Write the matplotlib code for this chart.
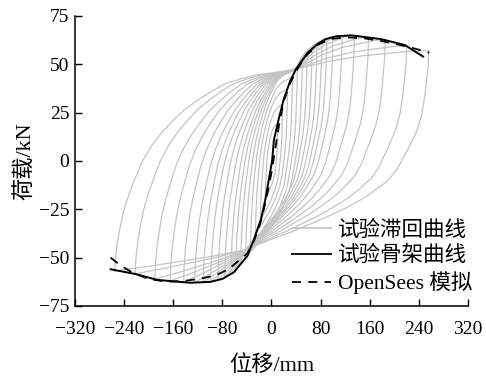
import numpy as np
import matplotlib.pyplot as plt
from matplotlib.lines import Line2D

plt.rcParams['font.family'] = ['Liberation Serif', 'Noto Sans CJK SC']

# skeleton curve (test)
skel_x = [-262, -221, -186, -132, -99, -80, -61, -39, -28, -17, -10, -4, 1, 4, 12, 20, 30, 40,
          59, 75, 88, 105, 130, 155, 179, 217, 247]
skel_y = [-56, -58.5, -61.5, -63, -62.5, -61, -57.5, -49, -40, -30, -20, -9, 0, 11, 22, 32, 41,
          47.6, 56, 60.5, 63, 64.5, 65, 64, 63, 60, 54]

# OpenSees simulation
os_x = [-262, -246, -225, -200, -170, -140, -110, -90, -70, -55, -40, -28, -17, -8, 0, 5, 12,
        20, 30, 42, 55, 75, 95, 120, 150, 180, 210, 235, 257]
os_y = [-50, -54, -58, -61, -62.5, -62, -60.5, -59, -56, -52, -48, -41, -31, -19, -6, 4, 18,
        31, 40, 47.5, 54, 60, 63, 64, 63.5, 62, 60, 58, 56]

# outermost hysteresis loop: reloading branch (neg peak -> pos peak)
up_x = [-255, -254, -250, -245, -240, -232, -222, -210, -195, -178, -160, -140, -118, -95, -75,
        -50, -25, 0, 20, 40, 60, 100, 150, 200, 235, 256]
up_y = [-57, -50, -40, -32, -25, -17, -9, 0, 8, 15, 21, 27, 32, 36.5, 40, 42.5, 44.5, 45.5,
        46.5, 47.5, 49, 52, 54.5, 56, 57, 57]
up_knee = 19
# outermost hysteresis loop: unloading branch (pos peak -> neg peak)
lo_x = [256, 255, 252, 249, 244, 236, 222, 205, 190, 165, 146, 120, 90, 60, 30, 0, -20, -42,
        -60, -100, -150, -200, -235, -255]
lo_y = [57, 48, 40, 32, 23, 15, 6, -4, -10, -16, -20, -24.5, -29, -33, -37, -40.5, -43, -46,
        -47, -49.5, -52, -54.5, -56, -57]
lo_knee = 17

# cycle amplitudes (mm)
pos_amp = [10, 18, 26, 34, 42, 50, 58, 66, 74, 82, 90, 100, 115, 135, 158, 185, 220]
neg_amp = [10, 18, 26, 34, 42, 50, 58, 66, 76, 87, 99, 111, 125, 143, 165, 190, 222]

xticks = [-320, -240, -160, -80, 0, 80, 160, 240, 320]
yticks = [-75, -50, -25, 0, 25, 50, 75]


def map_branch(bx, by, k, s, e):
    bx = np.array(bx, float)
    by = np.array(by, float)
    cx, cy = bx[k], by[k]
    ex0, ey0 = bx[-1], by[-1]
    if (e[0] - cx) * (ex0 - cx) > 0 and abs(e[0] - cx) > 8:
        x1 = cx + (bx[:k + 1] - cx) * (s[0] - cx) / (bx[0] - cx)
        y1 = cy + (by[:k + 1] - cy) * (s[1] - cy) / (by[0] - cy)
        x2 = cx + (bx[k:] - cx) * (e[0] - cx) / (ex0 - cx)
        y2 = cy + (by[k:] - cy) * (e[1] - cy) / (ey0 - cy)
        return np.r_[x1, x2[1:]], np.r_[y1, y2[1:]]
    x1 = e[0] + (bx[:k + 1] - cx) * (s[0] - e[0]) / (bx[0] - cx)
    y1 = e[1] + (by[:k + 1] - cy) * (s[1] - e[1]) / (by[0] - cy)
    return x1, y1


fig = plt.figure(figsize=(4.86, 3.78), dpi=100)
ax = fig.add_axes([0.1543, 0.1905, 0.8086, 0.7672])

gray = '#c4c4c4'
for ap, an in zip(pos_amp, neg_amp):
    pp = np.interp(ap, skel_x, skel_y)
    pn = np.interp(-an, skel_x, skel_y)
    x, y = map_branch(up_x, up_y, up_knee, (-an, pn), (ap, pp))
    ax.plot(x, y, color=gray, lw=0.9)
    x, y = map_branch(lo_x, lo_y, lo_knee, (ap, pp), (-an, pn))
    ax.plot(x, y, color=gray, lw=0.9)
ax.plot(up_x, up_y, color=gray, lw=0.9)
ax.plot(lo_x, lo_y, color=gray, lw=0.9)

ax.plot(skel_x, skel_y, color='black', lw=1.4)
ax.plot(os_x, os_y, color='black', lw=1.3, dashes=(5, 4))

ax.set_xlim(-320, 320)
ax.set_ylim(-75, 75)
ax.set_xticks(xticks)
ax.set_yticks(yticks)
ax.spines['top'].set_visible(False)
ax.spines['right'].set_visible(False)
ax.spines['left'].set_linewidth(1.1)
ax.spines['bottom'].set_linewidth(1.1)
ax.tick_params(direction='in', length=5, width=1, labelsize=14)
ax.tick_params(axis='x', pad=11)
ax.tick_params(axis='y', pad=4)
ax.set_xlabel('位移/mm', fontsize=16, labelpad=12)
ax.set_ylabel('荷载/kN', fontsize=16, labelpad=3)

handles = [Line2D([], [], color=gray, lw=1.2),
           Line2D([], [], color='black', lw=1.3),
           Line2D([], [], color='black', lw=1.3, dashes=(5, 4))]
labels = ['试验滞回曲线', '试验骨架曲线', 'OpenSees 模拟']
ax.legend(handles, labels, loc='lower right', bbox_to_anchor=(1.05, -0.012), frameon=False,
          fontsize=15.5, handlelength=1.8, handletextpad=0.35, labelspacing=0.25,
          borderpad=0.2)

fig.savefig('out.png', dpi=100)
